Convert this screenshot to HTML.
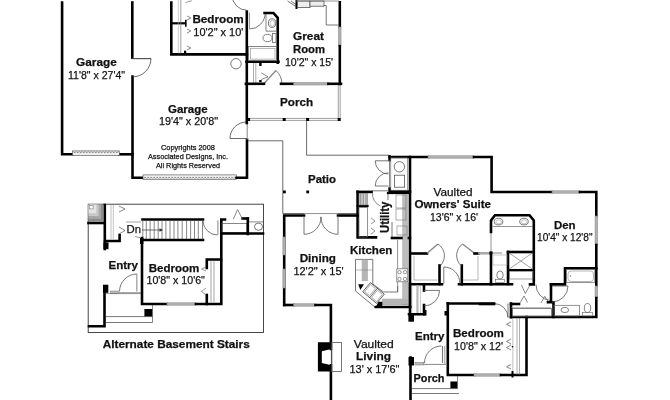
<!DOCTYPE html>
<html><head><meta charset="utf-8"><style>
html,body{margin:0;padding:0;background:#fff;width:670px;height:400px;overflow:hidden}
svg{display:block;filter:grayscale(1) blur(0.3px)}
text{font-family:"Liberation Sans",sans-serif;fill:#111;stroke:#111;stroke-width:0.25}
.w{fill:none;stroke:#000;stroke-linecap:square;stroke-linejoin:miter}
</style></head><body>
<svg width="670" height="400" viewBox="0 0 670 400">
<defs><pattern id="vhatch" width="1.6" height="3" patternUnits="userSpaceOnUse"><rect width="1.6" height="3" fill="#ddd"/><rect width="0.6" height="3" fill="#777"/></pattern><pattern id="hatch" x="0" y="0" width="3" height="4.4" patternUnits="userSpaceOnUse"><rect width="3" height="4.4" fill="#f2f2f2"/><rect x="0.3" y="0.9" width="1.8" height="0.9" fill="#777"/><rect x="1.8" y="2.6" width="1.8" height="0.9" fill="#777"/><rect x="-1.2" y="2.6" width="1.8" height="0.9" fill="#777"/></pattern></defs>
<polyline points="62.1,2.5 62.1,154.3 72.5,154.3" class="w" stroke-width="2.6"/>
<polyline points="119.3,154.3 132.5,154.3" class="w" stroke-width="2.6"/>
<rect x="72.5" y="150.9" width="46.8" height="4.4" fill="url(#hatch)" stroke="#555" stroke-width="0.6"/>
<polyline points="132.3,2.5 132.3,57.6" class="w" stroke-width="2.6"/>
<polyline points="132.5,76.5 132.5,177.8 143,177.8" class="w" stroke-width="2.6"/>
<rect x="143" y="174.9" width="93.6" height="4.4" fill="url(#hatch)" stroke="#555" stroke-width="0.6"/>
<polyline points="236.6,177.8 247,177.8 247,139.5" class="w" stroke-width="2.6"/>
<polyline points="132.5,58.6 151,58.6" fill="none" stroke="#555" stroke-width="1.2"/>
<path d="M151,58.4 A18.5,18.5 0 0 1 132.5,76.9" fill="none" stroke="#444" stroke-width="0.8"/>
<polyline points="246.5,138.5 230,138.5" fill="none" stroke="#444" stroke-width="0.8"/>
<path d="M230,138.5 A16.5,16.5 0 0 1 246.5,122" fill="none" stroke="#444" stroke-width="0.8"/>
<polyline points="247.2,123 247.2,139.5" fill="none" stroke="#999" stroke-width="1.2"/>
<polyline points="171.3,2.6 171.3,54.4 247.2,54.4" class="w" stroke-width="2.6"/>
<polyline points="246.8,11.6 246.8,123" class="w" stroke-width="2.6"/>
<polyline points="172,23.3 185,23.3" class="w" stroke-width="2.2"/>
<polyline points="185.8,20.6 185.8,26" class="w" stroke-width="1.6"/>
<polyline points="178.3,-1 178.3,53.5" fill="none" stroke="#aaa" stroke-width="0.6"/>
<polyline points="180.8,-1 180.8,53.5" fill="none" stroke="#777" stroke-width="0.7"/>
<polyline points="187,16 190.8,18 187,20" fill="none" stroke="#555" stroke-width="0.7"/>
<polyline points="187,29 190.8,31 187,33" fill="none" stroke="#555" stroke-width="0.7"/>
<polyline points="187,46 190.8,48 187,50" fill="none" stroke="#555" stroke-width="0.7"/>
<rect x="184" y="50.7" width="2.2" height="2.5" fill="#000"/>
<path d="M185.5,2.8 Q188,1.2 191.8,0.9" fill="none" stroke="#666" stroke-width="0.7"/>
<path d="M232,-5 A15.3,15.3 0 0 0 247.3,10.3" fill="none" stroke="#555" stroke-width="0.8"/>
<polyline points="249.5,12.5 249.5,29" fill="none" stroke="#999" stroke-width="1.0"/>
<path d="M249.7,29 A15.5,16.5 0 0 0 265.2,12.5" fill="none" stroke="#555" stroke-width="0.8"/>
<circle cx="236" cy="63.7" r="5.2" fill="none" stroke="#555" stroke-width="0.8"/>
<polyline points="264.6,13 273.4,13 277.75,17.8 277.75,62.7" class="w" stroke-width="2.6"/>
<polyline points="246.6,61.8 278.5,61.8" class="w" stroke-width="2.6"/>
<polyline points="266,14 266,31.2 277,31.2" fill="none" stroke="#666" stroke-width="0.8"/>
<ellipse cx="272.1" cy="23.1" rx="3.7" ry="4.3" fill="none" stroke="#555" stroke-width="0.8"/>
<ellipse cx="272.3" cy="23.3" rx="2.3" ry="3" fill="none" stroke="#888" stroke-width="0.6"/>
<ellipse cx="267.5" cy="38" rx="4.5" ry="3.6" fill="none" stroke="#666" stroke-width="0.8"/>
<rect x="272.5" y="33.5" width="3.5" height="9" fill="none" stroke="#666" stroke-width="0.8"/>
<rect x="248.5" y="46.5" width="28.2" height="14.2" fill="none" stroke="#666" stroke-width="0.8"/>
<rect x="250.5" y="48.3" width="24.5" height="10.8" fill="none" stroke="#999" stroke-width="0.7"/>
<polyline points="253.5,63 253.5,83" fill="none" stroke="#888" stroke-width="0.7"/>
<polyline points="255.8,63 255.8,83" fill="none" stroke="#888" stroke-width="0.7"/>
<rect x="259.2" y="62.8" width="2.4" height="3.2" fill="#000"/>
<rect x="259.2" y="80" width="2.4" height="2.2" fill="#000"/>
<polyline points="261.2,72.8 268,76.8 261.2,79.6" fill="none" stroke="#555" stroke-width="0.7"/>
<polyline points="263.5,84 276,70.5" fill="none" stroke="#888" stroke-width="1.3"/>
<path d="M276,70.5 A18.4,18.4 0 0 1 281.9,84" fill="none" stroke="#555" stroke-width="0.8"/>
<polyline points="339.8,2.3 339.8,27" class="w" stroke-width="2.6"/>
<rect x="338.6" y="27" width="2.4" height="19.200000000000003" fill="#b2b2b2" stroke="#8a8a8a" stroke-width="0.6"/>
<polyline points="339.8,46.2 339.8,84" class="w" stroke-width="2.6"/>
<polyline points="245.9,83.8 264,83.8" class="w" stroke-width="2.6"/>
<polyline points="281,83.8 293.7,83.8" class="w" stroke-width="2.6"/>
<rect x="293.7" y="82.6" width="34.69999999999999" height="2.4" fill="#b2b2b2" stroke="#8a8a8a" stroke-width="0.6"/>
<polyline points="328.4,83.8 341,83.8" class="w" stroke-width="2.6"/>
<polyline points="287.5,1 296,6.5" fill="none" stroke="#555" stroke-width="0.8"/>
<polyline points="291,1 296,4.5" fill="none" stroke="#555" stroke-width="0.8"/>
<polyline points="296.5,0.5 296.5,8" class="w" stroke-width="2.0"/>
<rect x="297.5" y="1" width="12.5" height="6.6" fill="#eee" stroke="#555" stroke-width="0.8"/>
<rect x="310" y="1" width="14" height="5.2" fill="#eee" stroke="#555" stroke-width="0.8"/>
<polyline points="296,1 339,1" fill="none" stroke="#666" stroke-width="0.7"/>
<polyline points="324,5.5 326.2,5.5 326.2,25 339,25" fill="none" stroke="#555" stroke-width="0.8"/>
<polyline points="248,118.4 339,118.4" fill="none" stroke="#777" stroke-width="0.7"/>
<polyline points="248,120.4 339,120.4" fill="none" stroke="#777" stroke-width="0.7"/>
<polyline points="338.3,85 338.3,118.5" fill="none" stroke="#777" stroke-width="0.7"/>
<polyline points="340.2,85 340.2,118.5" fill="none" stroke="#777" stroke-width="0.7"/>
<rect x="247.1" y="118" width="3" height="3" fill="#000"/>
<rect x="282.7" y="118" width="3" height="3" fill="#000"/>
<rect x="306.1" y="118" width="3" height="3" fill="#000"/>
<rect x="337.7" y="118" width="3" height="3" fill="#000"/>
<polyline points="306.6,120.5 306.6,155.2 389,155.2" fill="none" stroke="#444" stroke-width="0.8"/>
<polyline points="248,140.8 282.8,140.8 282.8,213.5 357,213.5" fill="none" stroke="#444" stroke-width="0.8"/>
<rect x="283" y="190.5" width="2.8" height="2.8" fill="#000"/>
<rect x="306.3" y="190.5" width="2.8" height="2.8" fill="#000"/>
<polyline points="389.6,157 428,157" class="w" stroke-width="2.6"/>
<rect x="428" y="155.8" width="46" height="2.4" fill="#b2b2b2" stroke="#8a8a8a" stroke-width="0.6"/>
<polyline points="474,157 491.6,157 491.6,192 552,192" class="w" stroke-width="2.6"/>
<rect x="552" y="190.8" width="28" height="2.4" fill="#b2b2b2" stroke="#8a8a8a" stroke-width="0.6"/>
<polyline points="580,192 596.3,192 596.3,216" class="w" stroke-width="2.6"/>
<rect x="595.0999999999999" y="216" width="2.4" height="29" fill="#b2b2b2" stroke="#8a8a8a" stroke-width="0.6"/>
<polyline points="596.3,245 596.3,286" class="w" stroke-width="2.6"/>
<rect x="595.0999999999999" y="286" width="2.4" height="12" fill="#b2b2b2" stroke="#8a8a8a" stroke-width="0.6"/>
<polyline points="596.3,298 596.3,317 511,317" class="w" stroke-width="2.6"/>
<polyline points="410,157 410,306" class="w" stroke-width="2.6"/>
<polyline points="389.6,156.5 389.6,160" class="w" stroke-width="2.6"/>
<polyline points="389.6,188.5 389.6,191.5 410,191.5" class="w" stroke-width="2.6"/>
<polyline points="389.6,160 389.6,188.5" fill="none" stroke="#555" stroke-width="0.8"/>
<rect x="390.8" y="157.8" width="16.8" height="32.4" fill="none" stroke="#666" stroke-width="0.6"/>
<circle cx="399.4" cy="166.8" r="5.2" fill="none" stroke="#555" stroke-width="0.8"/>
<rect x="394.4" y="175.2" width="10.2" height="12" fill="none" stroke="#555" stroke-width="0.8"/>
<polyline points="375.2,160.8 388.4,160.8" fill="none" stroke="#555" stroke-width="0.8"/>
<path d="M375.2,160.8 A13.2,13.2 0 0 0 388.4,174" fill="none" stroke="#555" stroke-width="0.8"/>
<polyline points="375.2,186 388.4,186" fill="none" stroke="#555" stroke-width="0.8"/>
<path d="M375.2,186 A13.2,13.2 0 0 1 388.4,172.8" fill="none" stroke="#555" stroke-width="0.8"/>
<polyline points="357.6,191.9 371.6,191.9" class="w" stroke-width="2.6"/>
<polyline points="371.6,190.8 389,190.8" fill="none" stroke="#555" stroke-width="0.8"/>
<polyline points="357.6,191.7 357.6,237.4 376,237.4" class="w" stroke-width="2.6"/>
<polyline points="357.6,206 367.5,206" class="w" stroke-width="2.2"/>
<rect x="359" y="193.5" width="8.5" height="11.5" fill="url(#vhatch)" stroke="#666" stroke-width="0.5"/>
<rect x="359" y="207.5" width="8.5" height="29.5" fill="none" stroke="#666" stroke-width="0.7"/>
<polyline points="371,218 375,221 371,224" fill="none" stroke="#666" stroke-width="0.7"/>
<polyline points="371,228 375,231 371,234" fill="none" stroke="#666" stroke-width="0.7"/>
<path d="M372.5,192.5 A13,13 0 0 0 380.5,206" fill="none" stroke="#555" stroke-width="0.7"/>
<polyline points="388,192.5 388,200" fill="none" stroke="#555" stroke-width="0.8"/>
<polyline points="388,193 410,193" class="w" stroke-width="2.2"/>
<polyline points="392,222 392,237" fill="none" stroke="#555" stroke-width="0.8"/>
<polyline points="392,238 410,238" class="w" stroke-width="2.6"/>
<rect x="403" y="194" width="4.6" height="111" fill="#bdbdbd"/>
<rect x="396" y="195" width="10" height="13" fill="none" stroke="#777" stroke-width="0.6"/>
<rect x="396" y="209" width="10" height="11" fill="none" stroke="#777" stroke-width="0.6"/>
<rect x="397" y="226" width="10" height="9" fill="none" stroke="#777" stroke-width="0.6"/>
<polyline points="397.6,240 397.6,292" fill="none" stroke="#666" stroke-width="0.7"/>
<polyline points="402.6,194 402.6,305" fill="none" stroke="#888" stroke-width="0.5"/>
<polyline points="407.8,194 407.8,305" fill="none" stroke="#888" stroke-width="0.5"/>
<rect x="396.8" y="268.8" width="11" height="13" fill="#fff" stroke="#666" stroke-width="0.7"/>
<circle cx="399.5" cy="272.2" r="1.7" fill="none" stroke="#555" stroke-width="0.6"/>
<circle cx="405" cy="272.2" r="1.7" fill="none" stroke="#555" stroke-width="0.6"/>
<circle cx="399.5" cy="279" r="1.7" fill="none" stroke="#555" stroke-width="0.6"/>
<circle cx="405" cy="279" r="1.7" fill="none" stroke="#555" stroke-width="0.6"/>
<path d="M355.5,259.4 L372.8,259.4 L372.8,284 L383.5,292 L397.7,292 L397.7,286" fill="none" stroke="#555" stroke-width="0.8"/>
<path d="M355.5,259.4 L355.5,291 L374.8,307" fill="none" stroke="#555" stroke-width="0.8"/>
<rect x="361.7" y="259.8" width="6.2" height="21.2" fill="#b5b5b5" stroke="none"/>
<polyline points="355.5,270 372.8,270" fill="none" stroke="#777" stroke-width="0.5"/>
<rect x="382" y="298.7" width="25.6" height="5.8" fill="#b5b5b5" stroke="none"/>
<polyline points="382,304.5 407.6,304.5" fill="none" stroke="#888" stroke-width="0.5"/>
<g transform="rotate(40 373.5 293)"><rect x="364.5" y="287" width="18" height="12" fill="#fff" stroke="#444" stroke-width="0.8"/><line x1="373.5" y1="287" x2="373.5" y2="299" stroke="#444" stroke-width="0.7"/><rect x="365.8" y="288.4" width="6.4" height="9.2" fill="none" stroke="#666" stroke-width="0.5"/><rect x="374.8" y="288.4" width="6.4" height="9.2" fill="none" stroke="#666" stroke-width="0.5"/></g>
<polygon points="358.3,284.3 364,284.3 360.3,290" fill="#000"/>
<polygon points="378.5,301.8 382.3,301.8 382.3,307 375.8,307" fill="#000"/>
<polyline points="375.8,307 410.5,307" class="w" stroke-width="2.6"/>
<polyline points="284.2,305 284.2,215.5 304,215.5" class="w" stroke-width="2.6"/>
<rect x="283.0" y="237" width="2.4" height="18" fill="#b2b2b2" stroke="#8a8a8a" stroke-width="0.6"/>
<rect x="283.0" y="269" width="2.4" height="19" fill="#b2b2b2" stroke="#8a8a8a" stroke-width="0.6"/>
<polyline points="338,215.5 357.6,215.5" class="w" stroke-width="2.6"/>
<polyline points="304,216.5 304,234.3" fill="none" stroke="#777" stroke-width="1.0"/>
<polyline points="338,216.5 338,234.3" fill="none" stroke="#777" stroke-width="1.0"/>
<path d="M304,234.3 A17,17 0 0 0 321,217" fill="none" stroke="#555" stroke-width="0.8"/>
<path d="M338,234.3 A17,17 0 0 1 321,217" fill="none" stroke="#555" stroke-width="0.8"/>
<polyline points="321,216.5 321,220.5" fill="none" stroke="#777" stroke-width="0.6"/>
<polyline points="304,213.6 338,213.6" fill="none" stroke="#aaa" stroke-width="0.8"/>
<polyline points="284.2,305 293.6,305" class="w" stroke-width="2.6"/>
<rect x="293.6" y="303.8" width="21.899999999999977" height="2.4" fill="#b2b2b2" stroke="#8a8a8a" stroke-width="0.6"/>
<polyline points="315.5,305 330.9,305 330.9,349" class="w" stroke-width="2.6"/>
<polyline points="330.9,365.3 330.9,402" class="w" stroke-width="2.6"/>
<path d="M317.9,342.3 L332.2,342.3 L332.2,371.5 L317.9,371.5 Z M321.8,351.3 L331.3,349 L331.3,365.3 L321.8,363 Z" fill="#000" fill-rule="evenodd"/>
<rect x="331.3" y="342.5" width="10.2" height="29" fill="none" stroke="#555" stroke-width="0.8"/>
<polyline points="410,284 410,314.5" class="w" stroke-width="2.6"/>
<rect x="408.4" y="315" width="5.6" height="6.7" fill="#000"/>
<polyline points="410.5,357.5 410.5,402" class="w" stroke-width="2.6"/>
<polyline points="411,284.2 442,284.2" class="w" stroke-width="2.6"/>
<rect x="416.3" y="285.5" width="2.3" height="27.5" fill="#bbb"/>
<polyline points="411.8,285.5 411.8,313" fill="none" stroke="#999" stroke-width="0.5"/>
<polyline points="420.5,285.5 420.5,313" fill="none" stroke="#999" stroke-width="0.5"/>
<polyline points="424,284.5 424,290.5" class="w" stroke-width="2.6"/>
<polyline points="424,305 424,314.3 409,314.3" class="w" stroke-width="2.6"/>
<rect x="423" y="310" width="3.5" height="5.5" fill="#000"/>
<polyline points="424,290.4 439.6,290.4" fill="none" stroke="#555" stroke-width="0.8"/>
<path d="M439.6,290.4 A15.6,15.6 0 0 1 424,306" fill="none" stroke="#555" stroke-width="0.8"/>
<polyline points="447.8,303.2 447.8,375 474,375" class="w" stroke-width="2.6"/>
<rect x="474" y="373.8" width="27" height="2.4" fill="#b2b2b2" stroke="#8a8a8a" stroke-width="0.6"/>
<polyline points="501,375 526.5,375 526.5,317" class="w" stroke-width="2.6"/>
<rect x="444.5" y="311" width="2.5" height="4.5" fill="#000"/>
<polyline points="447.8,303.5 494,303.5" class="w" stroke-width="2.6"/>
<path d="M494,303.5 A14,14 0 0 1 508,317.5" fill="none" stroke="#555" stroke-width="0.8"/>
<polyline points="508,303.5 508,317.5" fill="none" stroke="#555" stroke-width="0.8"/>
<polyline points="511,303.5 511,317.2" class="w" stroke-width="2.6"/>
<polyline points="511,304 519,304" class="w" stroke-width="2.6"/>
<rect x="512.5" y="308.5" width="39" height="8" fill="none" stroke="#555" stroke-width="0.7"/>
<polyline points="517,318 517,375" fill="none" stroke="#777" stroke-width="0.6"/>
<polyline points="519.5,318 519.5,375" fill="none" stroke="#777" stroke-width="0.6"/>
<polyline points="512.8,318 512.8,372" fill="none" stroke="#999" stroke-width="0.6"/>
<polyline points="511,322 506.5,324.25 511,326.5" fill="none" stroke="#555" stroke-width="0.7"/>
<polyline points="511,339 506.5,341.5 511,344" fill="none" stroke="#555" stroke-width="0.7"/>
<polyline points="511,345 506.5,347.5 511,350" fill="none" stroke="#555" stroke-width="0.7"/>
<polyline points="511,364.5 506.5,366.75 511,369" fill="none" stroke="#555" stroke-width="0.7"/>
<rect x="511.8" y="346" width="1.4" height="1.4" fill="#000"/>
<polyline points="512.5,372 512.5,376.5" class="w" stroke-width="2"/>
<path d="M441.5,346 A17,17 0 0 0 424.5,363" fill="none" stroke="#555" stroke-width="0.8"/>
<polyline points="442.5,346 442.5,363" fill="none" stroke="#777" stroke-width="1.1"/>
<polyline points="444.8,346 444.8,364" fill="none" stroke="#555" stroke-width="0.6"/>
<rect x="408.5" y="357" width="5.5" height="8.5" fill="#000"/>
<rect x="415" y="362.4" width="8.8" height="2.6" fill="#bbb" stroke="#777" stroke-width="0.5"/>
<polyline points="423.8,364.4 446,364.4" fill="none" stroke="#555" stroke-width="0.7"/>
<rect x="450.4" y="381.5" width="7" height="7" fill="#000"/>
<polyline points="412,388.6 457.5,388.6" fill="none" stroke="#555" stroke-width="0.8"/>
<polyline points="412,393.5 459,393.5" fill="none" stroke="#555" stroke-width="0.8"/>
<polyline points="457.5,376 457.5,388.6" fill="none" stroke="#555" stroke-width="0.7"/>
<polyline points="491,232 491,220.5 495,215.2 529.5,215.2 533.8,220.5 533.8,284.4 530,284.4" class="w" stroke-width="2.6"/>
<polyline points="491,233 491,252" fill="none" stroke="#777" stroke-width="0.8"/>
<polyline points="492.5,226.5 533,226.5" fill="none" stroke="#666" stroke-width="0.7"/>
<ellipse cx="498.5" cy="221.6" rx="4.3" ry="3.3" fill="none" stroke="#555" stroke-width="0.8"/>
<ellipse cx="498.7" cy="221.9" rx="2.8" ry="2" fill="none" stroke="#888" stroke-width="0.5"/>
<ellipse cx="524" cy="221.6" rx="4.3" ry="3.3" fill="none" stroke="#555" stroke-width="0.8"/>
<ellipse cx="524.2" cy="221.9" rx="2.8" ry="2" fill="none" stroke="#888" stroke-width="0.5"/>
<polyline points="411,253.5 427,253.5" class="w" stroke-width="2.6"/>
<polyline points="427,253.3 438,244" fill="none" stroke="#888" stroke-width="1.4"/>
<path d="M438,244 A14,14 0 0 1 440,266" fill="none" stroke="#555" stroke-width="0.8"/>
<polyline points="439.5,265.5 439.5,284.2" class="w" stroke-width="2.6"/>
<polyline points="461.8,265.5 461.8,284.2" class="w" stroke-width="2.6"/>
<path d="M462.5,244 A14,14 0 0 0 461.5,266" fill="none" stroke="#555" stroke-width="0.8"/>
<polyline points="462.5,244 474.5,253.3" fill="none" stroke="#888" stroke-width="1.4"/>
<polyline points="474.5,253.5 478.4,253.5" class="w" stroke-width="2.6"/>
<rect x="478.4" y="252.5" width="11.600000000000023" height="1.6" fill="#b2b2b2" stroke="#8a8a8a" stroke-width="0.6"/>
<rect x="489.5" y="251.5" width="3" height="3" fill="#000"/>
<polyline points="491,253 502,253" fill="none" stroke="#555" stroke-width="0.7"/>
<polyline points="414,256 414,280 437,280" fill="none" stroke="#888" stroke-width="0.6"/>
<polyline points="478,256 478,280 463,280" fill="none" stroke="#888" stroke-width="0.6"/>
<polyline points="459,284.2 512,284.2" class="w" stroke-width="2.6"/>
<polyline points="491,253 491,284.2" class="w" stroke-width="2.6"/>
<path d="M443.8,267 A16,16 0 0 1 459.8,283.5" fill="none" stroke="#555" stroke-width="0.8"/>
<polyline points="443.8,267 443.8,283.5" fill="none" stroke="#555" stroke-width="0.8"/>
<polyline points="508,252 533,252" class="w" stroke-width="2.6"/>
<polyline points="508,252 508,284" class="w" stroke-width="2.6"/>
<polyline points="508,270 533,270" class="w" stroke-width="2.0"/>
<polyline points="508.5,252.5 533,269.5" fill="none" stroke="#666" stroke-width="0.6"/>
<polyline points="533,252.5 508.5,269.5" fill="none" stroke="#666" stroke-width="0.6"/>
<rect x="509.5" y="271.5" width="23.5" height="7.5" fill="none" stroke="#666" stroke-width="0.6"/>
<ellipse cx="500" cy="275" rx="3.2" ry="4" fill="none" stroke="#666" stroke-width="0.8"/>
<rect x="495.5" y="279.5" width="9" height="3" fill="none" stroke="#666" stroke-width="0.6"/>
<rect x="493" y="255" width="14" height="10" fill="none" stroke="#999" stroke-width="0.5"/>
<path d="M536,284.5 A16,16 0 0 0 550,300.5" fill="none" stroke="#555" stroke-width="0.8"/>
<polyline points="521.4,284.8 525.3,293.5 529.8,285.5" fill="none" stroke="#555" stroke-width="0.7"/>
<polyline points="520.3,302.5 524,296 527.5,302.5" fill="none" stroke="#555" stroke-width="0.7"/>
<polyline points="541,303 544.8,296.3 548,301.5" fill="none" stroke="#555" stroke-width="0.7"/>
<polyline points="551,284.4 565,284.4 565,268.3 596.3,268.3" class="w" stroke-width="2.6"/>
<rect x="566.4" y="269.6" width="28.4" height="13" fill="none" stroke="#666" stroke-width="0.7"/>
<rect x="568" y="271" width="25.5" height="10.5" rx="3" fill="none" stroke="#888" stroke-width="0.6"/>
<circle cx="570.5" cy="276" r="0.7" fill="#666"/>
<polyline points="551,284.4 551,301" class="w" stroke-width="2.6"/>
<polyline points="548,302.2 553.5,302.2 553.5,317" class="w" stroke-width="2.6"/>
<polyline points="552,286 568,286" fill="none" stroke="#555" stroke-width="0.8"/>
<path d="M568,286 A16,16 0 0 1 552,302" fill="none" stroke="#555" stroke-width="0.8"/>
<rect x="554" y="305.3" width="25.4" height="10.7" fill="none" stroke="#666" stroke-width="0.7"/>
<ellipse cx="564.8" cy="310" rx="3.8" ry="2.6" fill="none" stroke="#666" stroke-width="0.8"/>
<ellipse cx="587.5" cy="308" rx="3.2" ry="4.5" fill="none" stroke="#666" stroke-width="0.8"/>
<rect x="582.6" y="312.5" width="9.8" height="3.5" fill="none" stroke="#666" stroke-width="0.6"/>
<polyline points="511,307.8 551,307.8" fill="none" stroke="#666" stroke-width="0.6"/>
<polyline points="480,304 494,304" class="w" stroke-width="2.6"/>
<rect x="88.2" y="204.2" width="175.3" height="128.3" fill="none" stroke="#333" stroke-width="0.9"/>
<rect x="88.6" y="204.6" width="14.6" height="16.8" fill="#8c8c8c"/>
<rect x="88.6" y="204.6" width="12.4" height="14.2" fill="#a8a8a8"/>
<rect x="88.6" y="204.6" width="10" height="11.4" fill="#c8c8c8"/>
<rect x="88.6" y="204.6" width="7.6" height="8.6" fill="#e4e4e4"/>
<rect x="89.5" y="205.5" width="3.6" height="3.4" fill="#fff" stroke="#666" stroke-width="0.5"/>
<polyline points="88.5,223 104,223" class="w" stroke-width="2.6"/>
<polyline points="104.8,205 104.8,249" class="w" stroke-width="2.6"/>
<rect x="103.4" y="242.4" width="5.1" height="6.8" fill="#000"/>
<polyline points="105,241 119.6,241 119.6,235" class="w" stroke-width="2.6"/>
<polyline points="111,205 111,239" fill="none" stroke="#999" stroke-width="0.6"/>
<polyline points="113.3,205 113.3,239" fill="none" stroke="#999" stroke-width="0.6"/>
<polyline points="119,206 125,209 119,212" fill="none" stroke="#555" stroke-width="0.7"/>
<polyline points="119,227 125,230.5 119,234" fill="none" stroke="#555" stroke-width="0.7"/>
<polyline points="142.5,219.5 203,219.5" class="w" stroke-width="2.6"/>
<polyline points="142.5,240 203,240" class="w" stroke-width="2.6"/>
<polyline points="142.8,220 142.8,239.5" fill="none" stroke="#555" stroke-width="0.7"/>
<polyline points="202.5,220 202.5,239.5" fill="none" stroke="#555" stroke-width="0.7"/>
<polyline points="146.3,220.5 146.3,239" fill="none" stroke="#555" stroke-width="0.7"/>
<polyline points="150.1,220.5 150.1,239" fill="none" stroke="#555" stroke-width="0.7"/>
<polyline points="154.2,220.5 154.2,239" fill="none" stroke="#555" stroke-width="0.7"/>
<polyline points="158.2,220.5 158.2,239" fill="none" stroke="#555" stroke-width="0.7"/>
<polyline points="162,220.5 162,239" fill="none" stroke="#555" stroke-width="0.7"/>
<polyline points="165.9,220.5 165.9,239" fill="none" stroke="#555" stroke-width="0.7"/>
<polyline points="170,220.5 170,239" fill="none" stroke="#555" stroke-width="0.7"/>
<polyline points="174,220.5 174,239" fill="none" stroke="#555" stroke-width="0.7"/>
<polyline points="177.9,220.5 177.9,239" fill="none" stroke="#555" stroke-width="0.7"/>
<polyline points="182.2,220.5 182.2,239" fill="none" stroke="#555" stroke-width="0.7"/>
<polyline points="186.6,220.5 186.6,239" fill="none" stroke="#555" stroke-width="0.7"/>
<polyline points="190.6,220.5 190.6,239" fill="none" stroke="#555" stroke-width="0.7"/>
<polyline points="194.5,220.5 194.5,239" fill="none" stroke="#555" stroke-width="0.7"/>
<polyline points="198.3,220.5 198.3,239" fill="none" stroke="#555" stroke-width="0.7"/>
<polyline points="142,230 162,230" fill="none" stroke="#333" stroke-width="0.7"/>
<polygon points="163,230 159.5,228.3 159.5,231.7" fill="#333"/>
<polyline points="126,222 141,222" fill="none" stroke="#666" stroke-width="0.6"/>
<polyline points="142,238 142,304 167,304" class="w" stroke-width="2.6"/>
<rect x="167" y="302.8" width="29" height="2.4" fill="#b2b2b2" stroke="#8a8a8a" stroke-width="0.6"/>
<polyline points="196,304 221.3,304 221.3,219.5 225,219.5" class="w" stroke-width="2.6"/>
<path d="M203,220.6 A14.5,14.5 0 0 0 217.5,235" fill="none" stroke="#555" stroke-width="0.8"/>
<polyline points="217.9,220.6 217.9,235" fill="none" stroke="#999" stroke-width="1.2"/>
<rect x="222" y="223.6" width="25" height="8.8" fill="none" stroke="#555" stroke-width="0.7"/>
<polyline points="221.3,233.5 263,233.5" class="w" stroke-width="2.6"/>
<polyline points="247.8,218.5 247.8,234" class="w" stroke-width="2.6"/>
<polyline points="242.6,218.5 247.8,218.5" class="w" stroke-width="2.6"/>
<polyline points="233.3,219.2 237.5,209.6 242.6,219.2" fill="none" stroke="#555" stroke-width="0.7"/>
<polyline points="249,221.9 263,221.9" fill="none" stroke="#555" stroke-width="0.7"/>
<ellipse cx="258.5" cy="226.7" rx="4" ry="3.6" fill="none" stroke="#555" stroke-width="0.8"/>
<polyline points="206.8,268 206.8,259.5 221,259.5" class="w" stroke-width="2.6"/>
<polyline points="206.8,295 206.8,304" class="w" stroke-width="2.6"/>
<polyline points="211,261 211,302" fill="none" stroke="#999" stroke-width="0.9"/>
<polyline points="214,261 214,302" fill="none" stroke="#999" stroke-width="0.9"/>
<polyline points="206,267 201.5,269 206,271" fill="none" stroke="#555" stroke-width="0.6"/>
<polyline points="206,288 201.5,291.5 206,295" fill="none" stroke="#555" stroke-width="0.6"/>
<path d="M137,274 A17.5,17.5 0 0 0 119.5,291.5" fill="none" stroke="#555" stroke-width="0.8"/>
<polyline points="136.8,274 136.8,291.5" fill="none" stroke="#999" stroke-width="1.2"/>
<polyline points="119,292.8 141,292.8" fill="none" stroke="#555" stroke-width="0.7"/>
<rect x="110.5" y="291" width="8" height="2.6" fill="#bbb" stroke="#777" stroke-width="0.5"/>
<rect x="103" y="284.7" width="5.3" height="8.1" fill="#000"/>
<polyline points="104.5,290 104.5,326.3 89,326.3" class="w" stroke-width="2.6"/>
<polyline points="106,293.6 141,293.6" fill="none" stroke="#555" stroke-width="0.6"/>
<rect x="144.4" y="309" width="8" height="7.6" fill="#000"/>
<polyline points="106,316.6 152.5,316.6" fill="none" stroke="#555" stroke-width="0.8"/>
<polyline points="106,322.5 152.5,322.5" fill="none" stroke="#555" stroke-width="0.8"/>
<polyline points="152.5,305 152.5,322.5" fill="none" stroke="#555" stroke-width="0.7"/>
<rect x="140" y="238" width="3.4" height="6" fill="#000"/>
<polyline points="135,236.5 141.5,238" fill="none" stroke="#555" stroke-width="0.6"/>
<text x="96.44999999999999" y="66.1" text-anchor="middle" font-size="11.6" font-weight="bold" textLength="40.7" lengthAdjust="spacingAndGlyphs">Garage</text>
<text x="96.5" y="78.5" text-anchor="middle" font-size="11.7" font-weight="normal" textLength="57.0" lengthAdjust="spacingAndGlyphs">11'8&quot; x 27'4&quot;</text>
<text x="187.8" y="113.2" text-anchor="middle" font-size="11.6" font-weight="bold" textLength="39.6" lengthAdjust="spacingAndGlyphs">Garage</text>
<text x="188.5" y="125.4" text-anchor="middle" font-size="11.7" font-weight="normal" textLength="59.0" lengthAdjust="spacingAndGlyphs">19'4&quot; x 20'8&quot;</text>
<text x="188.0" y="150" text-anchor="middle" font-size="8" font-weight="normal" textLength="54.0" lengthAdjust="spacingAndGlyphs">Copyrights 2008</text>
<text x="188.0" y="159.2" text-anchor="middle" font-size="8" font-weight="normal" textLength="80.0" lengthAdjust="spacingAndGlyphs">Associated Designs, Inc.</text>
<text x="188.0" y="167.8" text-anchor="middle" font-size="8" font-weight="normal" textLength="64.0" lengthAdjust="spacingAndGlyphs">All Rights Reserved</text>
<text x="218.10000000000002" y="22.8" text-anchor="middle" font-size="11.6" font-weight="bold" textLength="51.4" lengthAdjust="spacingAndGlyphs">Bedroom</text>
<text x="218.35000000000002" y="35.5" text-anchor="middle" font-size="11.7" font-weight="normal" textLength="50.1" lengthAdjust="spacingAndGlyphs">10'2&quot; x 10'</text>
<text x="308.5" y="40" text-anchor="middle" font-size="11.6" font-weight="bold" textLength="31.0" lengthAdjust="spacingAndGlyphs">Great</text>
<text x="309.0" y="53" text-anchor="middle" font-size="11.6" font-weight="bold" textLength="32.0" lengthAdjust="spacingAndGlyphs">Room</text>
<text x="309.0" y="65.6" text-anchor="middle" font-size="11.7" font-weight="normal" textLength="48.0" lengthAdjust="spacingAndGlyphs">10'2&quot; x 15'</text>
<text x="296.5" y="106.4" text-anchor="middle" font-size="11.6" font-weight="bold" textLength="33.0" lengthAdjust="spacingAndGlyphs">Porch</text>
<text x="322.0" y="183" text-anchor="middle" font-size="11.6" font-weight="bold" textLength="28.0" lengthAdjust="spacingAndGlyphs">Patio</text>
<text x="317.85" y="262.1" text-anchor="middle" font-size="11.6" font-weight="bold" textLength="36.3" lengthAdjust="spacingAndGlyphs">Dining</text>
<text x="318.54999999999995" y="274.5" text-anchor="middle" font-size="11.7" font-weight="normal" textLength="50.3" lengthAdjust="spacingAndGlyphs">12'2&quot; x 15'</text>
<text x="371.2" y="254" text-anchor="middle" font-size="11.6" font-weight="bold" textLength="42.4" lengthAdjust="spacingAndGlyphs">Kitchen</text>
<text x="0" y="0" text-anchor="middle" font-size="12.5" font-weight="bold" textLength="31.4" lengthAdjust="spacingAndGlyphs" transform="translate(389.4 217.3) rotate(-90)">Utility</text>
<text x="453.0" y="195.6" text-anchor="middle" font-size="11.7" font-weight="normal" textLength="38.8" lengthAdjust="spacingAndGlyphs">Vaulted</text>
<text x="452.7" y="208.3" text-anchor="middle" font-size="11.6" font-weight="bold" textLength="76.6" lengthAdjust="spacingAndGlyphs">Owners' Suite</text>
<text x="454.0" y="220.6" text-anchor="middle" font-size="11.7" font-weight="normal" textLength="48.0" lengthAdjust="spacingAndGlyphs">13'6&quot; x 16'</text>
<text x="564.8" y="229" text-anchor="middle" font-size="11.6" font-weight="bold" textLength="21.6" lengthAdjust="spacingAndGlyphs">Den</text>
<text x="564.75" y="241.4" text-anchor="middle" font-size="11.7" font-weight="normal" textLength="55.5" lengthAdjust="spacingAndGlyphs">10'4&quot; x 12'8&quot;</text>
<text x="478.45" y="336.5" text-anchor="middle" font-size="11.6" font-weight="bold" textLength="50.9" lengthAdjust="spacingAndGlyphs">Bedroom</text>
<text x="478.5" y="350" text-anchor="middle" font-size="11.7" font-weight="normal" textLength="49.0" lengthAdjust="spacingAndGlyphs">10'8&quot; x 12'</text>
<text x="429.7" y="340.4" text-anchor="middle" font-size="11.6" font-weight="bold" textLength="29.4" lengthAdjust="spacingAndGlyphs">Entry</text>
<text x="429.0" y="381.8" text-anchor="middle" font-size="11.6" font-weight="bold" textLength="31.0" lengthAdjust="spacingAndGlyphs">Porch</text>
<text x="373.75" y="347.5" text-anchor="middle" font-size="11.7" font-weight="normal" textLength="40.0" lengthAdjust="spacingAndGlyphs">Vaulted</text>
<text x="373.5" y="360" text-anchor="middle" font-size="11.6" font-weight="bold" textLength="35.0" lengthAdjust="spacingAndGlyphs">Living</text>
<text x="374.5" y="372.5" text-anchor="middle" font-size="11.7" font-weight="normal" textLength="50.0" lengthAdjust="spacingAndGlyphs">13' x 17'6&quot;</text>
<text x="133.75" y="233.3" text-anchor="middle" font-size="11.7" font-weight="normal" textLength="14.5" lengthAdjust="spacingAndGlyphs">Dn</text>
<text x="123.25" y="268.6" text-anchor="middle" font-size="11.6" font-weight="bold" textLength="29.5" lengthAdjust="spacingAndGlyphs">Entry</text>
<text x="174.0" y="271.5" text-anchor="middle" font-size="11.6" font-weight="bold" textLength="50.6" lengthAdjust="spacingAndGlyphs">Bedroom</text>
<text x="175.7" y="283.8" text-anchor="middle" font-size="11.7" font-weight="normal" textLength="58.4" lengthAdjust="spacingAndGlyphs">10'8&quot; x 10'6&quot;</text>
<text x="176.25" y="347.7" text-anchor="middle" font-size="11.6" font-weight="bold" textLength="147.1" lengthAdjust="spacingAndGlyphs">Alternate Basement Stairs</text>
</svg></body></html>
